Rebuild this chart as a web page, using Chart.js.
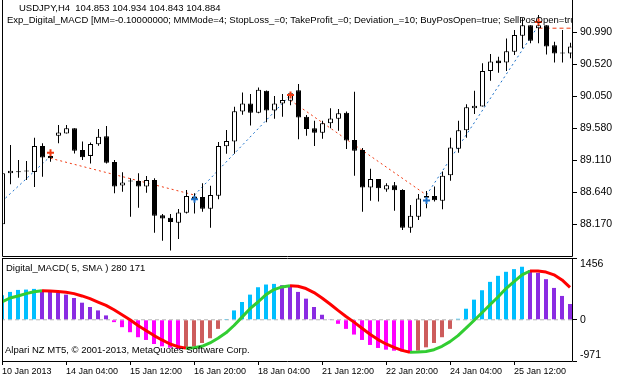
<!DOCTYPE html>
<html><head><meta charset="utf-8">
<script src="https://cdn.jsdelivr.net/npm/chart.js@4.4.0/dist/chart.umd.min.js"></script>
<style>
html,body{margin:0;padding:0;background:#fff;width:622px;height:378px;overflow:hidden}
canvas{position:absolute;left:0}
#top{top:0}#bot{top:257px}
</style>
</head><body>
<canvas id="top" width="622" height="257"></canvas>
<canvas id="bot" width="622" height="121"></canvas>
<script>
// ---------- data ----------
const categories = [
 "10 Jan 20:00",
 "11 Jan 00:00","11 Jan 04:00","11 Jan 08:00","11 Jan 12:00","11 Jan 16:00","11 Jan 20:00",
 "14 Jan 00:00","14 Jan 04:00","14 Jan 08:00","14 Jan 12:00","14 Jan 16:00","14 Jan 20:00",
 "15 Jan 00:00","15 Jan 04:00","15 Jan 08:00","15 Jan 12:00","15 Jan 16:00","15 Jan 20:00",
 "16 Jan 00:00","16 Jan 04:00","16 Jan 08:00","16 Jan 12:00","16 Jan 16:00","16 Jan 20:00",
 "17 Jan 00:00","17 Jan 04:00","17 Jan 08:00","17 Jan 12:00","17 Jan 16:00","17 Jan 20:00",
 "18 Jan 00:00","18 Jan 04:00","18 Jan 08:00","18 Jan 12:00","18 Jan 16:00","18 Jan 20:00",
 "21 Jan 00:00","21 Jan 04:00","21 Jan 08:00","21 Jan 12:00","21 Jan 16:00","21 Jan 20:00",
 "22 Jan 00:00","22 Jan 04:00","22 Jan 08:00","22 Jan 12:00","22 Jan 16:00","22 Jan 20:00",
 "23 Jan 00:00","23 Jan 04:00","23 Jan 08:00","23 Jan 12:00","23 Jan 16:00","23 Jan 20:00",
 "24 Jan 00:00","24 Jan 04:00","24 Jan 08:00","24 Jan 12:00","24 Jan 16:00","24 Jan 20:00",
 "25 Jan 00:00","25 Jan 04:00","25 Jan 08:00","25 Jan 12:00","25 Jan 16:00","25 Jan 20:00",
 "28 Jan 00:00","28 Jan 04:00","28 Jan 08:00","28 Jan 12:00","28 Jan 16:00"
];
const tickIndex  = [0, 8, 16, 24, 32, 40, 48, 56, 64];
const tickLabels = ["10 Jan 2013","14 Jan 04:00","15 Jan 12:00","16 Jan 20:00","18 Jan 04:00",
                    "21 Jan 12:00","22 Jan 20:00","24 Jan 04:00","25 Jan 12:00"];

const openP = [88.17,88.92,88.935,88.945,88.94,89.32,89.175,89.47,89.505,89.58,
 89.26,89.175,89.345,89.465,89.085,88.74,88.80,88.805,88.725,88.82,
 88.305,88.265,88.195,88.34,88.58,88.57,88.40,88.59,89.315,89.385,
 89.825,89.945,89.81,90.13,89.84,89.945,89.985,90.14,89.75,89.58,
 89.515,89.655,89.72,89.81,89.41,89.26,88.71,88.835,88.68,88.745,
 88.675,88.12,88.28,88.585,88.585,88.515,88.89,89.28,89.55,89.875,
 89.90,90.42,90.575,90.545,90.705,90.94,91.095,91.05,91.095,90.80,
 90.68,90.68];
const highP = [88.92,89.335,89.115,89.10,89.44,89.36,89.26,89.63,89.63,89.58,
 89.385,89.37,89.57,89.615,89.115,88.935,88.845,88.92,88.88,88.845,
 88.32,88.32,88.395,88.675,88.625,88.775,88.735,89.38,89.555,89.895,
 90.105,90.085,90.18,90.135,90.055,90.085,90.095,90.23,89.775,89.69,
 89.69,89.875,89.865,89.825,90.115,89.29,88.985,88.835,88.775,88.79,
 88.685,88.455,88.615,88.66,88.725,88.945,89.44,89.69,89.935,90.13,
 90.535,90.67,90.63,90.90,91.025,91.195,91.095,91.245,91.095,90.85,
 91.025,90.835];
const lowP = [88.17,88.76,88.855,88.82,88.72,88.87,89.09,89.36,89.505,89.21,
 89.115,89.065,89.325,89.065,88.625,88.65,88.28,88.415,88.635,88.045,
 87.93,87.785,87.955,88.33,88.33,88.355,88.12,88.54,89.205,89.205,
 89.78,89.62,89.80,89.67,89.72,89.75,89.92,89.42,89.47,89.32,
 89.425,89.58,89.545,89.275,88.885,88.355,88.515,88.505,88.65,88.37,
 88.085,88.045,88.235,88.405,88.505,88.39,88.81,89.22,89.44,89.79,
 89.90,90.28,90.395,90.42,90.655,90.755,90.83,90.83,90.665,90.545,
 90.545,90.61];
const closeP = [88.92,88.955,88.935,88.945,89.32,89.15,89.14,89.52,89.58,89.25,
 89.155,89.35,89.455,89.075,88.725,88.785,88.80,88.725,88.82,88.295,
 88.255,88.205,88.345,88.585,88.54,88.40,88.60,89.32,89.395,89.83,
 89.945,89.81,90.145,89.84,89.945,89.995,90.095,89.74,89.57,89.515,
 89.655,89.725,89.80,89.40,89.25,88.71,88.835,88.70,88.745,88.67,
 88.12,88.295,88.55,88.56,88.525,88.885,89.30,89.55,89.89,89.91,
 90.42,90.56,90.535,90.71,90.95,91.095,90.865,91.095,90.78,90.68,
 90.68,90.78];
const priceTicks = [88.170, 88.640, 89.110, 89.580, 90.050, 90.520, 90.990];

// trade history lines: [barFrom, priceFrom, barTo, priceTo]
const buyTrades  = [[-1, 88.405, 6, 89.17], [24, 88.60, 36, 90.07], [53, 88.60, 67, 91.09]];
const sellTrades = [[6, 89.14, 24, 88.60], [36, 89.99, 53, 88.60]];
const openSell   = [67, 91.05, 72, 91.05];
const buyDeals   = [[24, 88.54], [53, 88.52]];
const sellDeals  = [[6, 89.22], [36, 90.07], [67, 91.14]];

const histValues = [577,657,704,712,728,704,665,640,593,514,
 403,301,221,103,-55,-174,-293,-411,-475,-570,
 -625,-657,-688,-649,-633,-546,-435,-214,4,221,
 419,593,767,831,846,815,790,657,498,301,
 119,16,-95,-214,-348,-475,-593,-664,-704,-728,
 -744,-767,-728,-649,-546,-411,-214,24,261,475,
 696,894,1036,1131,1194,1250,1171,1107,957,751,
 562,372];
const signalValues = [419,514,562,617,660,682,678,668,650,617,
 562,498,419,340,237,119,0,-134,-253,-372,
 -475,-570,-633,-668,-657,-625,-546,-435,-308,-134,
 63,261,419,593,712,775,800,790,736,641,
 514,372,221,79,-55,-198,-340,-467,-570,-649,
 -720,-765,-760,-745,-705,-625,-514,-372,-198,-16,
 166,356,538,736,900,1060,1150,1148,1125,1060,
 940,765];
const macdTicks = [1456, 0, -971];

const title1 = "USDJPY,H4  104.853 104.934 104.843 104.884";
const title2 = "Exp_Digital_MACD [MM=-0.10000000; MMMode=4; StopLoss_=0; TakeProfit_=0; Deviation_=10; BuyPosOpen=true; SellPosOpen=true]";
const subTitle = "Digital_MACD( 5, SMA ) 280 171";
const copyright = "Alpari NZ MT5, \u00A9 2001-2013, MetaQuotes Software Corp.";

// ---------- styles ----------
const FONT = '"Liberation Sans", Arial, sans-serif';
const C_BUY = '#1a6fc8', C_SELL = '#f03a12';
const C_UP = '#00bfff', C_DN = '#8a2be2', C_NEGDN = '#ff00ff', C_NEGUP = '#cd5c5c';
Chart.defaults.font.family = FONT;
Chart.defaults.animation = false;

const idx = categories.map((_, i) => i);

function lineSet(t, color, dash) {
  return { type: 'line', data: [{x: t[0], y: t[1]}, {x: t[2], y: t[3]}],
    borderColor: color, borderWidth: 1, borderDash: dash, pointRadius: 0, order: 5, tension: 0 };
}
function noPad(s) { s.paddingTop = 0; s.paddingBottom = 0; s.paddingLeft = 0; s.paddingRight = 0; }

const framePlugin = {
  id: 'frame',
  afterDraw(chart, args, opts) {
    const {ctx, chartArea: a} = chart;
    ctx.save();
    if (opts.texts) {
      ctx.save();
      ctx.beginPath(); ctx.rect(a.left, 0, a.right - a.left - 1, a.bottom); ctx.clip();
      ctx.fillStyle = '#000'; ctx.textBaseline = 'alphabetic'; ctx.textAlign = 'left';
      ctx.font = '9.5px ' + FONT;
      opts.texts.forEach(t => ctx.fillText(t[0], t[1], t[2]));
      ctx.restore();
    }
    ctx.strokeStyle = '#000'; ctx.lineWidth = 1;
    ctx.beginPath();
    if (opts.top) { ctx.moveTo(a.left + 0.5, a.top + 0.5); ctx.lineTo(a.right - 0.5, a.top + 0.5); }
    ctx.moveTo(a.left + 0.5, a.top); ctx.lineTo(a.left + 0.5, a.bottom + 0.5);
    ctx.lineTo(a.right - 0.5, a.bottom + 0.5); ctx.lineTo(a.right - 0.5, a.top);
    ctx.stroke();
    if (opts.macdLabels) {
      const ys = chart.scales.y;
      ctx.fillStyle = '#000'; ctx.textAlign = 'left'; ctx.font = '10.5px ' + FONT;
      macdTicks.forEach(v => {
        let py = ys.getPixelForValue(v);
        if (v === ys.max) { ctx.textBaseline = 'top'; py += 1; }
        else if (v === ys.min) { ctx.textBaseline = 'bottom'; py -= 1; }
        else ctx.textBaseline = 'middle';
        ctx.fillText(String(v), a.right + 7, py);
      });
    }
    ctx.restore();
  }
};

// ---------- top: price chart ----------
const topDatasets = [
  { type: 'bar', data: idx.map(i => ({x: i, y: [openP[i], closeP[i]]})),
    backgroundColor: idx.map(i => closeP[i] > openP[i] ? '#ffffff' : '#000000'),
    borderColor: '#000', borderWidth: 1, borderSkipped: false, barThickness: 5,
    minBarLength: 1, grouped: false, inflateAmount: 0, order: 1 },
  { type: 'bar', data: idx.map(i => ({x: i, y: [lowP[i], highP[i]]})),
    backgroundColor: '#000', borderWidth: 0, barThickness: 1, grouped: false,
    inflateAmount: 0, order: 2 },
  ...buyTrades.map(t => lineSet(t, C_BUY, [2, 3])),
  ...sellTrades.map(t => lineSet(t, C_SELL, [2, 3])),
  lineSet(openSell, C_SELL, [4, 3]),
  { type: 'line', data: buyDeals.map(d => ({x: d[0], y: d[1]})), showLine: false,
    pointStyle: 'cross', pointRadius: 3.5, pointBorderWidth: 2, pointBorderColor: C_BUY, order: 0 },
  { type: 'line', data: sellDeals.map(d => ({x: d[0], y: d[1]})), showLine: false,
    pointStyle: 'cross', pointRadius: 3.5, pointBorderWidth: 2, pointBorderColor: C_SELL, order: 0 }
];

new Chart(document.getElementById('top'), {
  type: 'bar',
  data: { datasets: topDatasets },
  options: {
    responsive: false, animation: false, events: [],
    layout: { padding: { left: 2, right: 0, top: 0, bottom: 1 }, autoPadding: false },
    plugins: { legend: { display: false }, tooltip: { enabled: false },
      frame: { texts: [[title1, 19, 11], [title2, 7, 23]] } },
    scales: {
      x: { type: 'linear', display: false, offset: false, min: -0.0625, max: 71.3125 },
      y: { type: 'linear', position: 'right', min: 87.705, max: 91.464,
        afterBuildTicks: s => { s.ticks = priceTicks.map(v => ({value: v})); },
        afterFit: s => { s.width = 49; noPad(s); },
        border: { display: false },
        grid: { drawOnChartArea: false, drawTicks: true, tickLength: 4, color: '#000' },
        ticks: { color: '#000', padding: 3, font: { size: 10.5 }, callback: v => v.toFixed(3) } }
    }
  },
  plugins: [framePlugin]
});

// ---------- bottom: Digital MACD ----------
const histColors = histValues.map((v, i) => {
  const prev = i > 0 ? histValues[i - 1] : -Infinity;
  if (v >= 0) return v >= prev ? C_UP : C_DN;
  return v < prev ? C_NEGDN : C_NEGUP;
});

new Chart(document.getElementById('bot'), {
  type: 'bar',
  data: { datasets: [
    { type: 'line', data: idx.map(i => ({x: i, y: signalValues[i]})), borderWidth: 3,
      pointRadius: 0, tension: 0, borderJoinStyle: 'round', order: 0, borderColor: '#32cd32',
      segment: { borderColor: c => c.p1.parsed.y < c.p0.parsed.y ? '#ff0000' : '#32cd32' } },
    { type: 'bar', data: idx.map(i => ({x: i, y: histValues[i]})), backgroundColor: histColors,
      barThickness: 4, borderWidth: 0, inflateAmount: 0, order: 1 },
    { type: 'line', data: [{x: -1, y: 0}, {x: categories.length, y: 0}], borderColor: '#b4b4b4',
      borderWidth: 1, borderDash: [4, 3], pointRadius: 0, order: 2 }
  ] },
  options: {
    responsive: false, animation: false, events: [],
    layout: { padding: { left: 2, right: 0, top: 1, bottom: 0 }, autoPadding: false },
    plugins: { legend: { display: false }, tooltip: { enabled: false },
      frame: { top: true, macdLabels: true, texts: [[subTitle, 6, 14], [copyright, 5, 96]] } },
    scales: {
      x: { type: 'linear', offset: false, min: 0, max: 71.375,
        afterBuildTicks: s => { s.ticks = tickIndex.map(v => ({value: v})); },
        afterFit: s => { s.height = 17; noPad(s); },
        border: { display: false },
        grid: { drawOnChartArea: false, drawTicks: true, tickLength: 4, color: '#000', offset: false },
        ticks: { color: '#000', padding: 1, align: 'start', autoSkip: false, maxRotation: 0,
          font: { size: 9 }, callback: v => tickLabels[tickIndex.indexOf(v)] } },
      y: { type: 'linear', position: 'right', min: -971, max: 1456,
        afterBuildTicks: s => { s.ticks = macdTicks.map(v => ({value: v})); },
        afterFit: s => { s.width = 49; noPad(s); },
        border: { display: false },
        grid: { drawOnChartArea: false, drawTicks: true, tickLength: 4, color: '#000' },
        ticks: { display: false } }
    }
  },
  plugins: [framePlugin]
});
</script>
</body></html>
